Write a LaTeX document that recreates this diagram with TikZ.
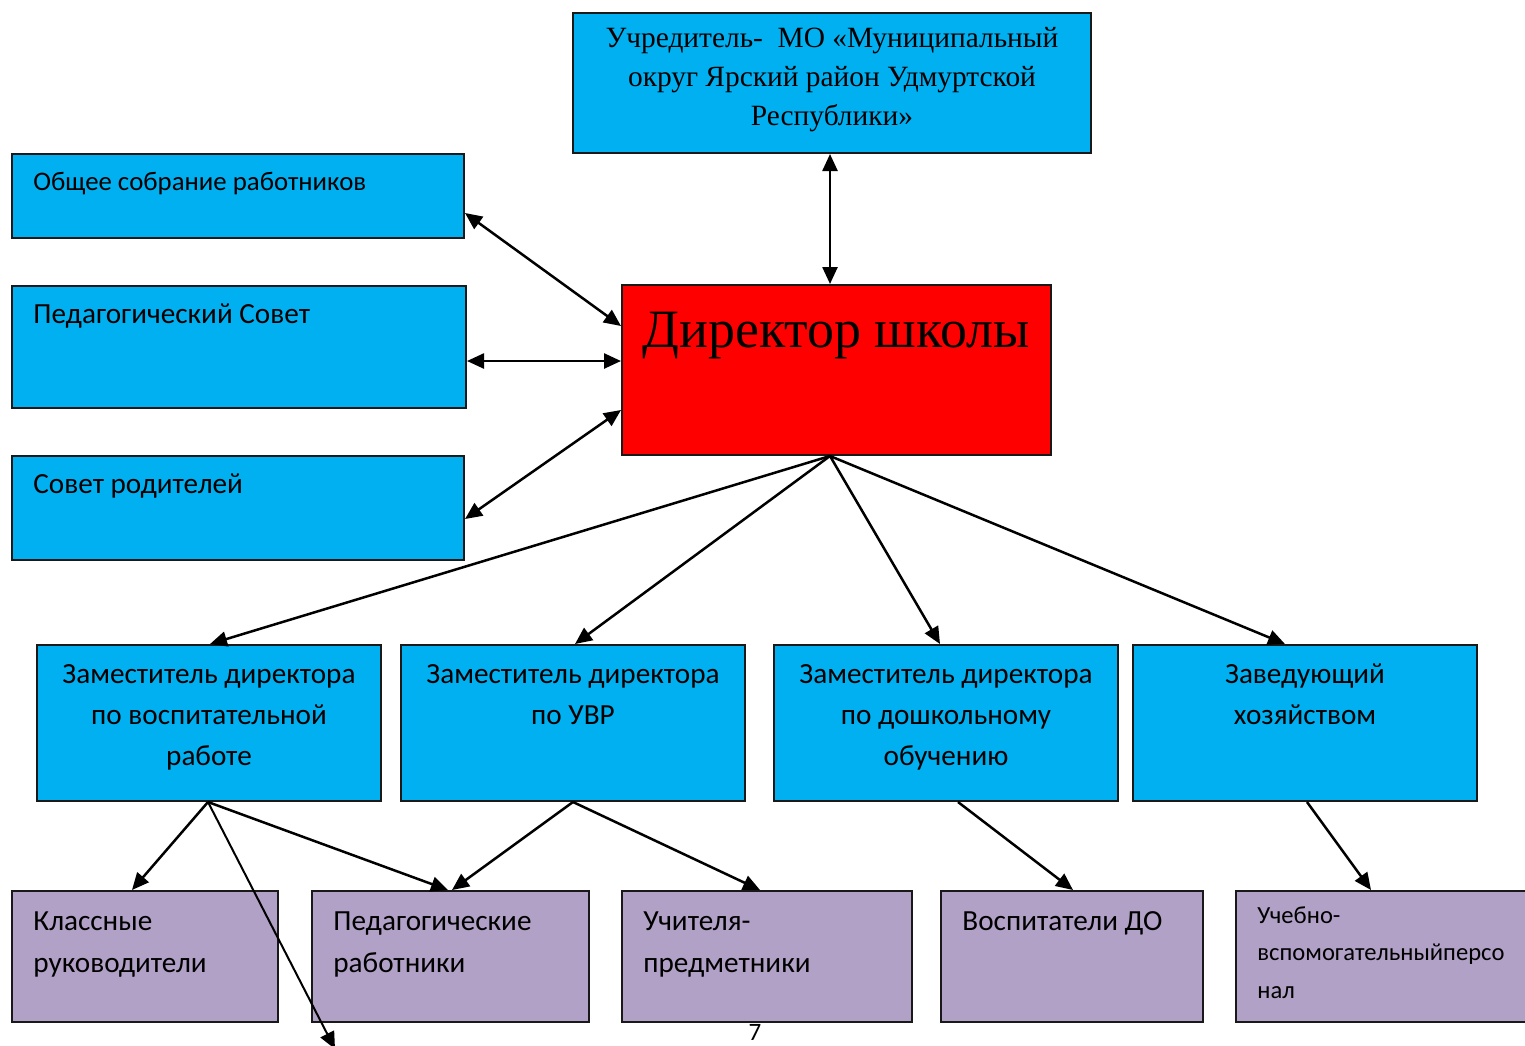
\documentclass[tikz,border=0pt]{standalone}
\usepackage{fontspec}
\setmainfont{Liberation Serif}
\newfontfamily\calfont{Carlito}
\usetikzlibrary{arrows.meta,fit}
\definecolor{cyanbox}{HTML}{00B0F0}
\definecolor{lilac}{HTML}{B2A1C7}
\definecolor{redbox}{HTML}{FF0000}
\newcommand\hs{\rule{0pt}{14pt}}
\begin{document}
\begin{tikzpicture}[x=0.5pt,y=-0.5pt,
  box/.style={draw=black!90, line width=1pt, inner sep=0pt},
  cbox/.style={box, fill=cyanbox},
  lbox/.style={box, fill=lilac},
  rbox/.style={box, fill=redbox},
  lab/.style={inner sep=0pt, font=\calfont\fontsize{14.6}{20.5}\selectfont, align=left, anchor=north west},
  clab/.style={lab, align=center, anchor=north},
  blab/.style={lab, font=\calfont\fontsize{14.6}{21}\selectfont},
  tip/.tip={Triangle[length=8.5pt,width=7.5pt]},
  link/.style={line width=1.25pt, -tip},
  dlink/.style={line width=1.25pt, tip-tip}]
\useasboundingbox (0,0) rectangle (1525,1045);

% top boxes
\node[cbox, fit={(573,13) (1091,153)}] (ucr) {};
\node[inner sep=0pt, font=\fontsize{14.7}{19.5}\selectfont, align=center] (ucrt) at (832,80)
  {Учредитель-\ \ МО «Муниципальный\\округ Ярский район Удмуртской\\Республики»};

\node[rbox, fit={(622,285) (1051,455)}] (dir) {};
\node[inner sep=0pt, font=\fontsize{27}{30}\selectfont, anchor=base] (dirt) at (836,347) {Директор школы};

\node[cbox, fit={(12,154) (464,238)}] (obs) {};
\node[lab, font=\calfont\fontsize{13.4}{20}\selectfont] (obst) at (33,162) {\hs Общее собрание работников};
\node[cbox, fit={(12,286) (466,408)}] (ped) {};
\node[lab] (pedt) at (33,295) {\hs Педагогический Совет};
\node[cbox, fit={(12,456) (464,560)}] (rod) {};
\node[lab] (rodt) at (33,465) {\hs Совет родителей};

% deputies
\node[cbox, fit={(37,645) (381,801)}] (d1) {};
\node[clab] (d1t) at (209,655) {\hs Заместитель директора\\по воспитательной\\работе};
\node[cbox, fit={(401,645) (745,801)}] (d2) {};
\node[clab] (d2t) at (573,655) {\hs Заместитель директора\\по УВР};
\node[cbox, fit={(774,645) (1118,801)}] (d3) {};
\node[clab] (d3t) at (946,655) {\hs Заместитель директора\\по дошкольному\\обучению};
\node[cbox, fit={(1133,645) (1477,801)}] (d4) {};
\node[clab] (d4t) at (1305,655) {\hs Заведующий\\хозяйством};

% bottom row
\node[lbox, fit={(12,891) (278,1022)}] (kl) {};
\node[blab] (klt) at (33,902) {\hs Классные\\руководители};
\node[lbox, fit={(312,891) (589,1022)}] (pr) {};
\node[blab] (prt) at (333,902) {\hs Педагогические\\работники};
\node[lbox, fit={(622,891) (912,1022)}] (uch) {};
\node[blab] (ucht) at (643,902) {\hs Учителя-\\предметники};
\node[lbox, fit={(941,891) (1203,1022)}] (vos) {};
\node[blab] (vost) at (962,902) {\hs Воспитатели ДО};
\node[lbox, fit={(1236,891) (1532,1022)}] (ucb) {};
\node[lab, font=\calfont\fontsize{12.3}{18.75}\selectfont] (ucbt) at (1257,895) {\hs Учебно-\\вспомогательныйперсо\\нал};

\node[inner sep=0pt, anchor=north, font=\calfont\fontsize{12.5}{15}\selectfont] (pg) at (755,1024) {7};

% connectors
\coordinate (vx) at (830,0);
\draw[dlink] (ucr.south -| vx) -- (dir.north -| vx);
\draw[dlink] ([yshift=-8.5pt]obs.east) -- ([yshift=22pt]dir.west);
\draw[dlink] ([yshift=-7pt]ped.east) -- ([yshift=-7pt]ped.east -| dir.west);
\draw[dlink] ([yshift=-5.5pt]rod.east) -- ([yshift=-20pt]dir.west);

\draw[link] ([xshift=-3.25pt]dir.south) -- ([xshift=0.5pt]d1.north);
\draw[link] ([xshift=-3.25pt]dir.south) -- ([xshift=1pt]d2.north);
\draw[link] ([xshift=-3.25pt]dir.south) -- ([xshift=-3pt]d3.north);
\draw[link] ([xshift=-3.25pt]dir.south) -- ([xshift=-10pt]d4.north);

\coordinate (off) at (335,1049);
\draw[link] ([xshift=-0.5pt]d1.south) -- ([xshift=-6.5pt]kl.north);
\draw[link] ([xshift=-0.5pt]d1.south) -- ([xshift=-1.25pt]pr.north);
\draw[link, line width=1pt] ([xshift=-0.5pt]d1.south) -- (off);
\draw[link] (d2.south) -- ([xshift=0.75pt]pr.north);
\draw[link] (d2.south) -- ([xshift=-3.5pt]uch.north);
\draw[link] ([xshift=6pt]d3.south) -- ([xshift=0.5pt]vos.north);
\draw[link] ([xshift=1pt]d4.south) -- ([xshift=-6.5pt]ucb.north);
\end{tikzpicture}
\end{document}
